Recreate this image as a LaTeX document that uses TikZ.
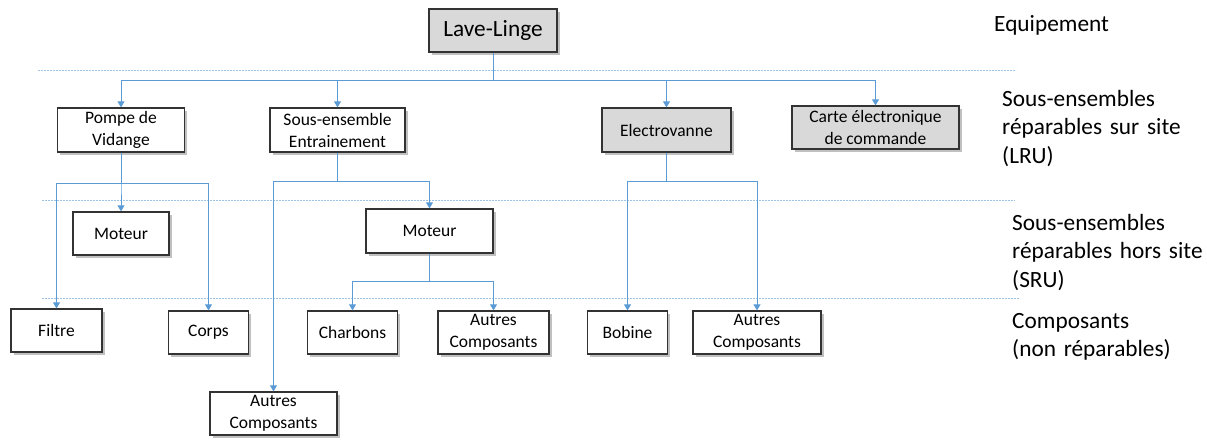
\documentclass[tikz,border=0pt]{standalone}
\usepackage{fontspec}
\setmainfont{Carlito}
\usepackage{xcolor}
\usepackage{tikz}
\usetikzlibrary{arrows.meta,positioning,shadows}
\definecolor{linkblue}{HTML}{5B9BD5}
\definecolor{sepblue}{HTML}{9DC3E6}
\definecolor{boxgray}{HTML}{D9D9D9}
\definecolor{boxline}{HTML}{333333}
\newcommand{\boxfont}{\fontsize{17.5}{22}\selectfont}
\newcommand{\levelfont}{\fontsize{23.3}{28.5}\selectfont}

\begin{document}
\begin{tikzpicture}[
    x=1pt, y=-1pt,
    >={Triangle[length=6pt,width=7pt]},
    part/.style={draw=boxline, line width=1.3pt, fill=white, align=center, inner sep=0pt, font=\boxfont,
      drop shadow={shadow xshift=2.5pt, shadow yshift=-3pt, opacity=0.45, fill=black!55}},
    lru/.style={part, fill=boxgray},
    level/.style={anchor=base west, inner sep=0pt, align=left, text width=205pt, font=\levelfont},
    link/.style={draw=linkblue, line width=1pt, ->},
    sep/.style={draw=sepblue, line width=0.8pt, dash pattern=on 1.6pt off 1.4pt}
]
\useasboundingbox (0,0) rectangle (1207,439);

\node[lru, minimum width=128pt, minimum height=43pt, font=\levelfont] (lave) at (493,30.5) {Lave-Linge};

\node[part, minimum width=127pt, minimum height=44pt] (pompe) at (121,130) {Pompe de\\Vidange};
\node[part, minimum width=135pt, minimum height=44pt] (entr) at (337.5,130) {Sous-ensemble\\Entrainement};
\node[lru, minimum width=129pt, minimum height=44pt] (elec) at (666.5,130) {Electrovanne};
\node[lru, minimum width=167pt, minimum height=43pt] (carte) at (875.5,127.5) {Carte électronique\\de commande};

\node[part, minimum width=96pt, minimum height=43pt] (moteurA) at (121,233.5) {Moteur};
\node[part, minimum width=127pt, minimum height=44pt] (moteurB) at (429.5,231) {Moteur};

\node[part, minimum width=91pt, minimum height=43pt] (filtre) at (56.5,330.5) {Filtre};
\node[part, minimum width=80pt, minimum height=43pt] (corps) at (208.5,332.5) {Corps};
\node[part, minimum width=127pt, minimum height=43pt] (autresA) at (273.5,413.5) {Autres\\Composants};
\node[part, minimum width=90pt, minimum height=43pt] (charbons) at (352.5,332.5) {Charbons};
\node[part, minimum width=111pt, minimum height=43pt] (autresB) at (493.5,332.5) {Autres\\Composants};
\node[part, minimum width=80pt, minimum height=43pt] (bobine) at (627.5,332.5) {Bobine};
\node[part, minimum width=128pt, minimum height=43pt] (autresC) at (757,332.5) {Autres\\Composants};

\node[level] (equip) at (994,31) {Equipement};
\node[level] (siteLRU) at (1002,106) {Sous-ensembles\\réparables sur site\\(LRU)};
\node[level] (siteSRU) at (1012,230) {Sous-ensembles\\réparables hors site\\(SRU)};
\node[level] (compo) at (1012,328) {Composants\\(non réparables)};

\draw[sep] (38,70) -- (1016,70);
\draw[sep] (42,200) -- (1015,200);
\draw[sep] (42,298) -- (1019,298);

\draw[link] (lave.south) -- ++(0,28) -| (pompe.north);
\draw[link] (lave.south) -- ++(0,28) -| (entr.north);
\draw[link] (lave.south) -- ++(0,28) -| (elec.north);
\draw[link] (lave.south) -- ++(0,28) -| (carte.north);

\draw[link] (pompe.south) -- ++(0,31) -| (moteurA.north);
\draw[link] (pompe.south) -- ++(0,31) -| (filtre.north);
\draw[link] (pompe.south) -- ++(0,31) -| (corps.north);

\draw[link] (entr.south) -- ++(0,29) -| (moteurB.north);
\draw[link] (entr.south) -- ++(0,29) -| (autresA.north);

\draw[link] (moteurB.south) -- ++(0,28) -| (charbons.north);
\draw[link] (moteurB.south) -- ++(0,28) -| (autresB.north);

\draw[link] (elec.south) -- ++(0,29) -| (bobine.north);
\draw[link] (elec.south) -- ++(0,29) -| (autresC.north);
\end{tikzpicture}
\end{document}
